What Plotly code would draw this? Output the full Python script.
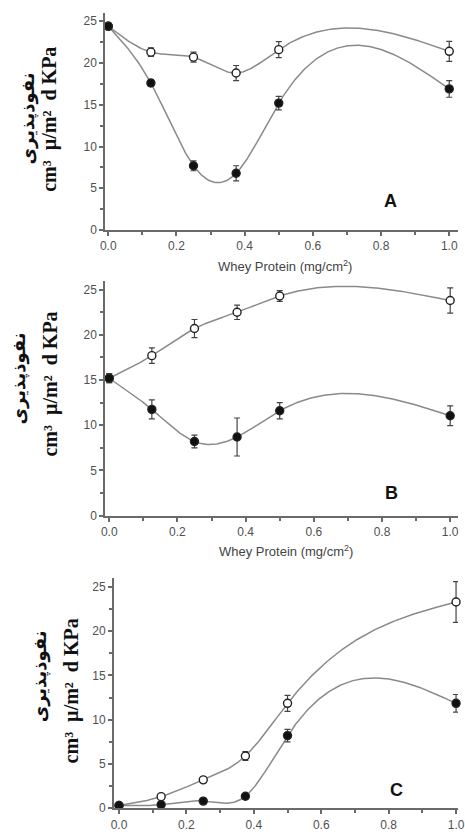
import numpy as np
import plotly.graph_objects as go

# ---------------- data ----------------
x_vals = [0.0, 0.125, 0.25, 0.375, 0.5, 1.0]

a_open = [24.4, 21.3, 20.7, 18.8, 21.6, 21.4]
a_open_err = [0.4, 0.5, 0.6, 0.9, 0.95, 1.2]
a_fill = [24.4, 17.6, 7.7, 6.8, 15.2, 16.9]
a_fill_err = [0.3, 0.4, 0.6, 0.9, 0.8, 1.0]

b_open = [15.2, 17.7, 20.7, 22.5, 24.3, 23.8]
b_open_err = [0.5, 0.85, 1.0, 0.8, 0.6, 1.4]
b_fill = [15.2, 11.75, 8.2, 8.7, 11.6, 11.05]
b_fill_err = [0.5, 1.05, 0.7, 2.1, 0.9, 1.1]

c_open = [0.3, 1.3, 3.2, 5.9, 11.85, 23.3]
c_open_err = [0.2, 0.3, 0.3, 0.5, 0.9, 2.3]
c_fill = [0.3, 0.4, 0.8, 1.35, 8.2, 11.85]
c_fill_err = [0.1, 0.2, 0.2, 0.3, 0.7, 1.0]

x_ticks = [0.0, 0.2, 0.4, 0.6, 0.8, 1.0]
x_tick_text = ["0.0", "0.2", "0.4", "0.6", "0.8", "1.0"]
y_ticks = [0, 5, 10, 15, 20, 25]

x_title = "Whey Protein (mg/cm<sup>2</sup>)"
y_title_fa = "نفوذپذیری"
y_title_unit = "cm³  µ/m²  d KPa"
panel_letters = ["A", "B", "C"]


def natural_spline(x, y, xs):
    x = np.asarray(x, float)
    y = np.asarray(y, float)
    n = len(x)
    h = np.diff(x)
    A = np.zeros((n, n))
    r = np.zeros(n)
    A[0, 0] = 1
    A[-1, -1] = 1
    for i in range(1, n - 1):
        A[i, i - 1] = h[i - 1]
        A[i, i] = 2 * (h[i - 1] + h[i])
        A[i, i + 1] = h[i]
        r[i] = 6 * ((y[i + 1] - y[i]) / h[i] - (y[i] - y[i - 1]) / h[i - 1])
    M = np.linalg.solve(A, r)
    out = np.empty_like(xs)
    for k, xv in enumerate(xs):
        i = min(max(np.searchsorted(x, xv) - 1, 0), n - 2)
        t1 = x[i + 1] - xv
        t0 = xv - x[i]
        hi = h[i]
        out[k] = (M[i] * t1 ** 3 / (6 * hi) + M[i + 1] * t0 ** 3 / (6 * hi)
                  + (y[i] / hi - M[i] * hi / 6) * t1
                  + (y[i + 1] / hi - M[i + 1] * hi / 6) * t0)
    return out


W, H = 465, 836


def py(px):
    return 1 - px / H


panels = [
    dict(open=a_open, oe=a_open_err, fill=a_fill, fe=a_fill_err,
         xdom=[103 / W, 1.0], xr=[-0.0086, 1.0257], ydom=[py(232), py(13)],
         fa=(24, 119), unit=(46, 120), letter=(396, 203), xt=(287, 268)),
    dict(open=b_open, oe=b_open_err, fill=b_fill, fe=b_fill_err,
         xdom=[103 / W, 1.0], xr=[-0.0114, 1.0229], ydom=[py(520), py(283)],
         fa=(14, 382), unit=(47, 387), letter=(397, 497), xt=(288, 556)),
    dict(open=c_open, oe=c_open_err, fill=c_fill, fe=c_fill_err,
         xdom=[112 / W, 1.0], xr=[-0.0145, 1.0058], ydom=[py(815), py(583)],
         fa=(36, 682), unit=(68, 697), letter=(402, 797), xt=None),
]

fig = go.Figure()
xs = np.linspace(0, 1, 400)
line_col = "#8a8a8a"
axis_col = "#6a6a6a"
tick_font = dict(family="Liberation Sans, Arial", size=12, color="#505050")
annotations = []

for k, p in enumerate(panels):
    n = "" if k == 0 else str(k + 1)
    xa, ya = "x" + n, "y" + n
    for ser in [p["open"], p["fill"]]:
        fig.add_trace(go.Scatter(
            x=xs, y=natural_spline(x_vals, ser, xs), mode="lines",
            line=dict(color=line_col, width=1.5), xaxis=xa, yaxis=ya,
            hoverinfo="skip", showlegend=False, cliponaxis=False))
    for ser, err, filled in [(p["open"], p["oe"], False), (p["fill"], p["fe"], True)]:
        fig.add_trace(go.Scatter(
            x=x_vals, y=ser, mode="markers", xaxis=xa, yaxis=ya,
            error_y=dict(type="data", array=err, visible=True, color="#444444",
                         thickness=1.2, width=3),
            marker=dict(size=8, symbol="circle",
                        color="#111111" if filled else "white",
                        line=dict(color="#222222", width=1.4)),
            showlegend=False, cliponaxis=False))
    common = dict(showline=True, linecolor=axis_col, linewidth=2, ticks="outside",
                  tickcolor=axis_col, ticklen=4, tickwidth=1.5, showgrid=False,
                  zeroline=False, tickfont=tick_font, ticklabeloverflow="allow")
    fig.layout["xaxis" + n] = dict(
        domain=p["xdom"], range=p["xr"], anchor=ya, tickvals=x_ticks,
        ticktext=x_tick_text, minor=dict(tickvals=[0.1, 0.3, 0.5, 0.7, 0.9],
                                         ticks="outside", ticklen=3,
                                         tickcolor=axis_col), **common)
    fig.layout["yaxis" + n] = dict(
        domain=p["ydom"], range=[0, 26], anchor=xa, tickvals=y_ticks,
        minor=dict(tickvals=[2.5, 7.5, 12.5, 17.5, 22.5], ticks="outside",
                   ticklen=3, tickcolor=axis_col), **common)
    annotations.append(dict(text="<b>" + y_title_fa + "</b>", x=p["fa"][0] / W,
                            y=py(p["fa"][1]),
                            xref="paper", yref="paper", showarrow=False,
                            textangle=-90, xanchor="center", yanchor="middle",
                            font=dict(family="DejaVu Sans", size=18, color="#111111")))
    annotations.append(dict(text="<b>" + y_title_unit + "</b>", x=p["unit"][0] / W,
                            y=py(p["unit"][1]), xref="paper", yref="paper",
                            showarrow=False, textangle=-90, xanchor="center",
                            yanchor="middle",
                            font=dict(family="Liberation Serif", size=20, color="#111111")))
    annotations.append(dict(text="<b>" + panel_letters[k] + "</b>", x=p["letter"][0] / W,
                            y=py(p["letter"][1]), xref="paper", yref="paper",
                            showarrow=False, xanchor="center", yanchor="middle",
                            font=dict(family="Liberation Sans, Arial", size=18,
                                      color="#111111")))
    if p["xt"] is not None:
        annotations.append(dict(text=x_title, x=p["xt"][0] / W, y=py(p["xt"][1]),
                                xref="paper", yref="paper", showarrow=False,
                                xanchor="center", yanchor="middle",
                                font=dict(family="Liberation Sans, Arial", size=13,
                                          color="#444444")))

fig.update_layout(width=W, height=H, margin=dict(l=0, r=0, t=0, b=0),
                  paper_bgcolor="white", plot_bgcolor="white",
                  annotations=annotations, showlegend=False)
fig.write_html("out.html")
